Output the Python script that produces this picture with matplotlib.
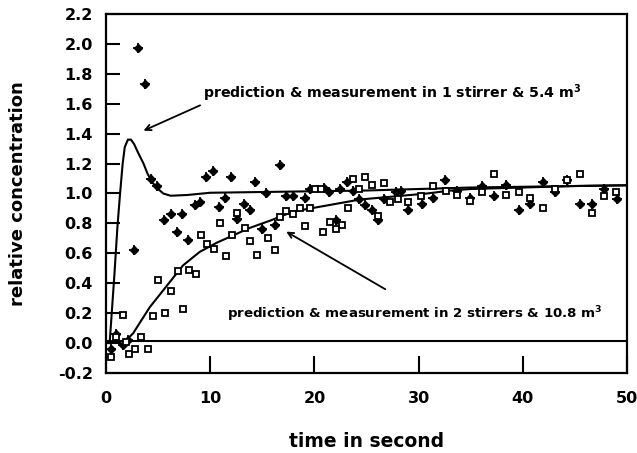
import matplotlib
matplotlib.use('Agg')
import matplotlib.pyplot as plt

plt.rcParams['font.family'] = ['DejaVu Sans']
plt.rcParams['font.weight'] = 'bold'

# prediction curve, 1 stirrer & 5.4 m3
pred1_t = [0.35, 0.8, 1.1, 1.35, 1.6, 1.8, 2.1, 2.4, 2.7, 3.1, 3.6, 4.0, 4.5, 5.0, 5.5,
           6.2, 7.8, 10, 15, 20, 25, 30, 35, 40, 45, 50]
pred1_c = [0.0, 0.45, 0.78, 1.0, 1.2, 1.31, 1.36, 1.36, 1.33, 1.27, 1.20, 1.13, 1.07, 1.03, 1.0,
           0.985, 0.99, 1.005, 1.01, 1.015, 1.02, 1.03, 1.04, 1.045, 1.05, 1.055]

# prediction curve, 2 stirrers & 10.8 m3
pred2_t = [1.0, 1.5, 2.6, 4.2, 5.8, 7.4, 9.0, 10.6, 12.2, 13.8, 15.8, 18.0, 21.2, 24.4,
           27.6, 30.8, 33.1, 35, 40, 45, 50]
pred2_c = [0.03, -0.01, 0.065, 0.24, 0.38, 0.52, 0.61, 0.67, 0.72, 0.77, 0.82, 0.88, 0.92, 0.96,
           0.98, 1.0, 1.02, 1.03, 1.04, 1.05, 1.055]

# measurements, 1 stirrer
meas1_t = [0.5, 1.0, 1.6, 2.1, 2.7, 3.1, 3.7, 4.3, 4.9, 5.6, 6.2, 6.8, 7.3, 7.9, 8.5, 9.0,
           9.6, 10.3, 10.8, 11.4, 12.0, 12.6, 13.2, 13.8, 14.3, 15.0, 15.4, 16.2, 16.7,
           17.3, 17.9, 19.1, 19.6, 20.9, 21.4, 22.1, 22.5, 23.1, 23.7, 24.3, 24.9, 25.5,
           26.1, 26.7, 27.8, 28.3, 29.0, 30.3, 31.4, 32.5, 33.7, 34.9, 36.1, 37.2, 38.4,
           39.6, 40.7, 41.9, 43.1, 44.2, 45.5, 46.6, 47.8, 49.0]
meas1_c = [-0.04, 0.06, -0.01, 0.02, 0.62, 1.975, 1.73, 1.10, 1.05, 0.82, 0.86, 0.74, 0.86,
           0.69, 0.92, 0.94, 1.11, 1.15, 0.91, 0.97, 1.11, 0.83, 0.93, 0.89, 1.08, 0.76, 1.0,
           0.79, 1.19, 0.98, 0.98, 0.97, 1.03, 1.04, 1.01, 0.82, 1.03, 1.08, 1.02, 0.96, 0.92,
           0.89, 0.82, 0.96, 1.01, 1.02, 0.89, 0.93, 0.97, 1.09, 1.02, 0.97, 1.05, 0.98, 1.06,
           0.89, 0.93, 1.08, 1.01, 1.09, 0.93, 0.93, 1.03, 0.96]

# measurements, 2 stirrers
meas2_t = [0.5, 1.0, 1.6, 1.9, 2.2, 2.8, 3.4, 4.0, 4.5, 5.0, 5.7, 6.2, 6.9, 7.4, 8.0, 8.6,
           9.1, 9.7, 10.4, 10.9, 11.5, 12.1, 12.6, 13.3, 13.8, 14.5, 15.5, 16.2, 16.7, 17.3,
           17.9, 18.6, 19.1, 19.6, 20.1, 20.6, 20.8, 21.5, 22.1, 22.6, 23.2, 23.7, 24.3,
           24.9, 25.5, 26.1, 26.7, 27.3, 28.0, 29.0, 30.2, 31.4, 32.6, 33.7, 34.9, 36.1,
           37.2, 38.4, 39.6, 40.7, 41.9, 43.1, 44.2, 45.5, 46.6, 47.8, 48.9]
meas2_c = [-0.09, 0.04, 0.19, 0.01, -0.07, -0.04, 0.04, -0.04, 0.18, 0.42, 0.20, 0.35, 0.48,
           0.23, 0.49, 0.46, 0.72, 0.66, 0.63, 0.80, 0.58, 0.72, 0.87, 0.77, 0.68, 0.59, 0.70,
           0.62, 0.84, 0.88, 0.86, 0.90, 0.78, 0.90, 1.03, 1.03, 0.74, 0.81, 0.76, 0.79, 0.90,
           1.10, 1.03, 1.11, 1.06, 0.85, 1.07, 0.94, 0.96, 0.94, 0.98, 1.05, 1.02, 0.99, 0.95,
           1.01, 1.13, 0.99, 1.01, 0.97, 0.90, 1.03, 1.09, 1.13, 0.87, 0.98, 1.01]

y_ticks = [-0.2, 0.0, 0.2, 0.4, 0.6, 0.8, 1.0, 1.2, 1.4, 1.6, 1.8, 2.0, 2.2]
x_ticks = [0, 10, 20, 30, 40, 50]

fig = plt.figure(figsize=(6.37, 4.53), dpi=100)
ax = fig.add_axes([0.1664, 0.1766, 0.818, 0.7925])

ax.plot(pred1_t, pred1_c, color='black', lw=1.5)
ax.plot(pred2_t, pred2_c, color='black', lw=1.5)
ax.axhline(0.015, color='black', lw=1.5)

ax.plot(meas1_t, meas1_c, linestyle='none', marker='D', ms=3.8, color='black')
ax.plot(meas1_t, meas1_c, linestyle='none', marker='+', ms=6.5, mew=1.3, color='black')
ax.plot(meas2_t, meas2_c, linestyle='none', marker='s', ms=4.8, mfc='white',
        mec='black', mew=1.3)

ax.annotate('prediction & measurement in 1 stirrer & 5.4 m$^3$', xy=(3.6, 1.42),
            xytext=(9.3, 1.67), fontsize=10.2, va='center', ha='left',
            arrowprops=dict(arrowstyle='->', color='black', lw=1.3,
                            shrinkA=0, shrinkB=0, relpos=(0.0, 0.0)))
ax.annotate('', xy=(17.3, 0.745), xytext=(26.8, 0.36),
            arrowprops=dict(arrowstyle='->', color='black', lw=1.3,
                            shrinkA=0, shrinkB=0))
ax.text(11.6, 0.19, 'prediction & measurement in 2 stirrers & 10.8 m$^3$',
        fontsize=9.6, va='center', ha='left')

ax.set_xlim(0, 50)
ax.set_ylim(-0.2, 2.2)
ax.set_yticks(y_ticks)
ax.set_yticklabels([f'{v:.1f}' for v in y_ticks])
ax.set_xticks(x_ticks)
ax.tick_params(axis='y', direction='in', length=10, width=1.5, labelsize=11.5, pad=9.5)
ax.tick_params(axis='x', direction='in', length=12, width=1.5, labelsize=11.5, pad=13)
for side in ax.spines.values():
    side.set_linewidth(1.6)

ax.set_xlabel('time in second', fontsize=13.5, fontweight='bold', labelpad=19)
ax.set_ylabel('relative concentration', fontsize=13, fontweight='bold', labelpad=22)

fig.savefig('out.png', dpi=100)
